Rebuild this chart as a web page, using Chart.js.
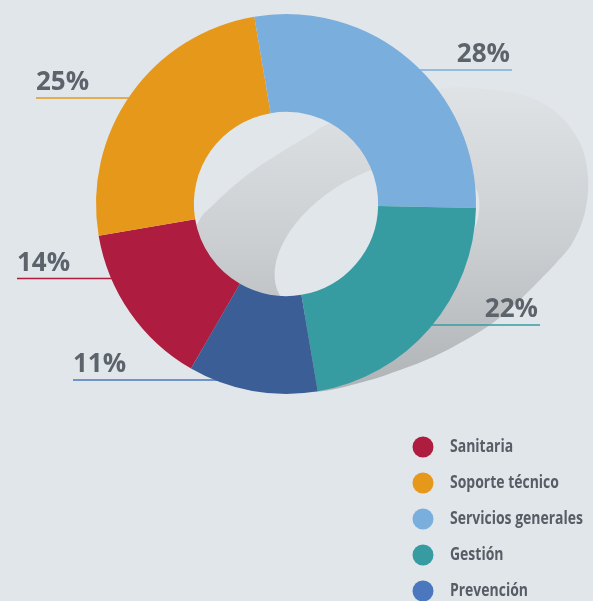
<!DOCTYPE html>
<html>
<head>
<meta charset="utf-8">
<script src="https://cdn.jsdelivr.net/npm/chart.js@4.4.1/dist/chart.umd.min.js"></script>
<style>
  html, body { margin: 0; padding: 0; background: #e1e6ea; }
  #wrap { width: 593px; height: 601px; position: relative; }
</style>
</head>
<body>
<div id="wrap"><canvas id="donut"></canvas></div>
<script>
const labels = ['Sanitaria', 'Soporte técnico', 'Servicios generales', 'Gestión', 'Prevención'];
const values = [14, 25, 28, 22, 11];
const sliceColors = ['#ae1c3f', '#e5981a', '#7aaedc', '#369ca2', '#3b5e96'];
const legendColors = ['#ae1c3f', '#e5981a', '#7aaedc', '#369ca2', '#4a77bd'];

// callout line: vertical offset from centre and x of the outer end (px at radius 190)
const calloutDy = [74.5, -106, -134, 121, 176];
const calloutEnd = [-269, -250, 226, 254, -213];

// soft grey "shadow" ring behind the donut, offsets from centre at radius 190
const shadowOuter = [
  [-89, 21], [-73, 1], [-39, -29], [-6, -51], [27, -71], [42, -80], [99, -103],
  [154, -115], [187, -116], [237, -109], [271, -91], [294, -61], [302, -27],
  [299, 8], [287, 38], [271, 58], [247, 83], [224, 105], [201, 123], [174, 139],
  [147, 153], [114, 166], [77, 178], [27, 188], [-26, 181], [-86, 141], [-111, 81]
];
const shadowInner = { x: 91, y: 36, a: 112, b: 66, rot: -30 };

const textColor = '#5c636b';

const shadowPlugin = {
  id: 'shadowRing',
  beforeDatasetsDraw(chart) {
    const arc = chart.getDatasetMeta(0).data[0];
    const cx = arc.x, cy = arc.y, R = arc.outerRadius, k = R / 190;
    const ctx = chart.ctx;
    ctx.save();
    const g = ctx.createLinearGradient(0, cy - 117 * k, 0, cy + 190 * k);
    g.addColorStop(0, '#dfe3e6');
    g.addColorStop(0.5, '#cbcfd2');
    g.addColorStop(1, '#afb3b6');
    ctx.fillStyle = g;
    ctx.beginPath();
    const pts = shadowOuter.map(p => [cx + p[0] * k, cy + p[1] * k]);
    const n = pts.length;
    ctx.moveTo(pts[0][0], pts[0][1]);
    for (let i = 0; i < n; i++) {
      const p0 = pts[(i - 1 + n) % n], p1 = pts[i], p2 = pts[(i + 1) % n], p3 = pts[(i + 2) % n];
      ctx.bezierCurveTo(
        p1[0] + (p2[0] - p0[0]) / 6, p1[1] + (p2[1] - p0[1]) / 6,
        p2[0] - (p3[0] - p1[0]) / 6, p2[1] - (p3[1] - p1[1]) / 6,
        p2[0], p2[1]);
    }
    ctx.closePath();
    ctx.ellipse(cx + shadowInner.x * k, cy + shadowInner.y * k, shadowInner.a * k, shadowInner.b * k,
      shadowInner.rot * Math.PI / 180, 0, Math.PI * 2);
    ctx.fill('evenodd');

    // callout lines, ending just under the outer edge of the ring
    ctx.lineWidth = 1.5;
    calloutDy.forEach((dy, i) => {
      const y = cy + dy * k;
      const side = calloutEnd[i] < 0 ? -1 : 1;
      const edge = Math.sqrt(Math.max(0, R * R - (dy * k) * (dy * k))) - 6;
      ctx.strokeStyle = legendColors[i];
      ctx.beginPath();
      ctx.moveTo(cx + calloutEnd[i] * k, y);
      ctx.lineTo(cx + side * Math.max(edge, 0), y);
      ctx.stroke();
    });
    ctx.restore();
  },
  afterDatasetsDraw(chart) {
    const arc = chart.getDatasetMeta(0).data[0];
    const cx = arc.x, cy = arc.y, k = arc.outerRadius / 190;
    const ctx = chart.ctx;
    ctx.save();
    ctx.fillStyle = textColor;
    ctx.font = 'bold 26px "Open Sans", sans-serif';
    ctx.textBaseline = 'alphabetic';
    values.forEach((v, i) => {
      const y = cy + calloutDy[i] * k - 8;
      const x = cx + calloutEnd[i] * k;
      if (calloutEnd[i] < 0) {
        ctx.textAlign = 'left';
        ctx.fillText(v + '%', x, y);
      } else {
        ctx.textAlign = 'right';
        ctx.fillText(v + '%', x - 2, y);
      }
    });

    // legend, bottom right (condensed look by squeezing the text horizontally)
    ctx.font = 'bold 18px "Open Sans", sans-serif';
    ctx.textAlign = 'left';
    ctx.textBaseline = 'middle';
    const sx = 133 / ctx.measureText('Servicios generales').width;
    labels.forEach((lab, i) => {
      const y = 447 + i * 36;
      ctx.fillStyle = legendColors[i];
      ctx.beginPath();
      ctx.arc(423, y, 10.5, 0, Math.PI * 2);
      ctx.fill();
      ctx.save();
      ctx.translate(450, y);
      ctx.scale(sx, 1);
      ctx.fillStyle = '#575d65';
      ctx.fillText(lab, 0, 0);
      ctx.restore();
    });
    ctx.restore();
  }
};

new Chart(document.getElementById('donut'), {
  type: 'doughnut',
  data: {
    labels: labels,
    datasets: [{
      data: values,
      backgroundColor: sliceColors,
      borderWidth: 0
    }]
  },
  options: {
    responsive: true,
    maintainAspectRatio: false,
    animation: false,
    rotation: 210,
    cutout: '48.5%',
    layout: { padding: { left: 96, right: 117, top: 14, bottom: 207 } },
    plugins: {
      legend: { display: false },
      tooltip: { enabled: false }
    }
  },
  plugins: [shadowPlugin]
});
</script>
</body>
</html>
